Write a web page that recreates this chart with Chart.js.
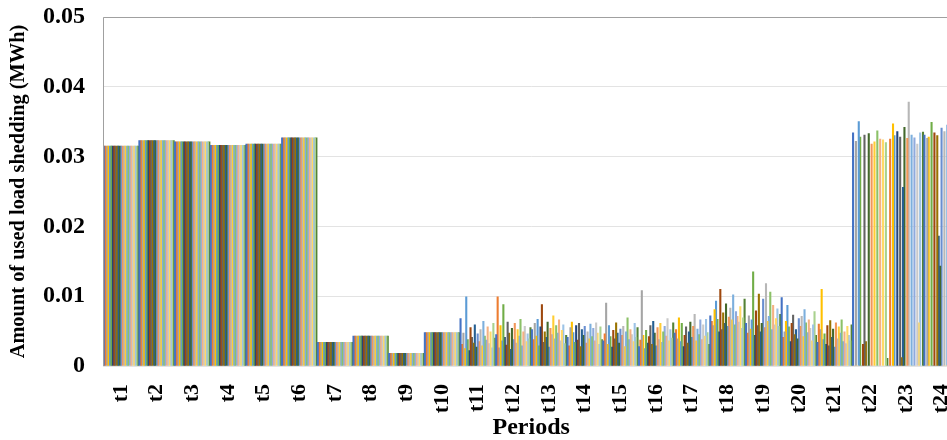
<!DOCTYPE html>
<html><head><meta charset="utf-8">
<script src="https://cdn.jsdelivr.net/npm/chart.js@4/dist/chart.umd.min.js"></script>
<style>html,body{margin:0;padding:0;background:#fff;overflow:hidden}#wrap{width:978px;height:440px;position:relative}</style>
</head><body><div id="wrap"><canvas id="c"></canvas></div>
<script>
const periods = ['t1','t2','t3','t4','t5','t6','t7','t8','t9','t10','t11','t12','t13','t14','t15','t16','t17','t18','t19','t20','t21','t22','t23','t24'];
const yTicks = [0, 0.01, 0.02, 0.03, 0.04, 0.05];
// t1..t10: identical for every scenario
const commonT1toT10 = [0.0315, 0.0323, 0.0321, 0.0316, 0.0318, 0.0327, 0.0034, 0.0043, 0.0018, 0.0048];
// t11..t24 per scenario
const s01 = [0.0068, 0.0045, 0.0052, 0.0041, 0.0036, 0.0028, 0.0047, 0.0072, 0.0061, 0.0098, 0.0034, 0.0334, 0.0000, 0.0331];
const s02 = [0.0031, 0.0099, 0.0038, 0.0029, 0.0046, 0.0037, 0.0052, 0.0064, 0.0047, 0.0041, 0.0060, 0.0000, 0.0325, 0.0000];
const s03 = [0.0047, 0.0026, 0.0061, 0.0055, 0.0090, 0.0108, 0.0039, 0.0058, 0.0072, 0.0049, 0.0052, 0.0322, 0.0000, 0.0326];
const s04 = [0.0025, 0.0058, 0.0043, 0.0063, 0.0031, 0.0044, 0.0069, 0.0081, 0.0053, 0.0064, 0.0110, 0.0000, 0.0347, 0.0328];
const s05 = [0.0099, 0.0036, 0.0067, 0.0048, 0.0058, 0.0025, 0.0035, 0.0093, 0.0066, 0.0087, 0.0038, 0.0350, 0.0330, 0.0000];
const s06 = [0.0038, 0.0088, 0.0029, 0.0034, 0.0042, 0.0051, 0.0061, 0.0067, 0.0135, 0.0056, 0.0046, 0.0328, 0.0000, 0.0349];
const s07 = [0.0022, 0.0041, 0.0056, 0.0058, 0.0027, 0.0033, 0.0028, 0.0049, 0.0044, 0.0035, 0.0031, 0.0000, 0.0336, 0.0000];
const s08 = [0.0055, 0.0030, 0.0088, 0.0037, 0.0051, 0.0042, 0.0044, 0.0110, 0.0079, 0.0061, 0.0058, 0.0031, 0.0000, 0.0334];
const s09 = [0.0041, 0.0063, 0.0034, 0.0061, 0.0039, 0.0058, 0.0056, 0.0052, 0.0058, 0.0073, 0.0029, 0.0331, 0.0328, 0.0000];
const s10 = [0.0033, 0.0047, 0.0049, 0.0028, 0.0062, 0.0031, 0.0033, 0.0076, 0.0103, 0.0045, 0.0065, 0.0035, 0.0012, 0.0330];
const s11 = [0.0059, 0.0024, 0.0041, 0.0052, 0.0047, 0.0064, 0.0049, 0.0061, 0.0049, 0.0052, 0.0041, 0.0000, 0.0256, 0.0186];
const s12 = [0.0027, 0.0054, 0.0063, 0.0044, 0.0033, 0.0047, 0.0063, 0.0089, 0.0061, 0.0039, 0.0053, 0.0333, 0.0342, 0.0143];
const s13 = [0.0046, 0.0038, 0.0027, 0.0057, 0.0053, 0.0029, 0.0041, 0.0057, 0.0096, 0.0068, 0.0027, 0.0000, 0.0000, 0.0341];
const s14 = [0.0035, 0.0061, 0.0054, 0.0033, 0.0044, 0.0055, 0.0057, 0.0070, 0.0055, 0.0057, 0.0062, 0.0318, 0.0326, 0.0000];
const s15 = [0.0052, 0.0033, 0.0045, 0.0049, 0.0057, 0.0038, 0.0074, 0.0083, 0.0118, 0.0071, 0.0039, 0.0000, 0.0378, 0.0336];
const s16 = [0.0029, 0.0052, 0.0072, 0.0039, 0.0028, 0.0061, 0.0036, 0.0066, 0.0064, 0.0042, 0.0056, 0.0321, 0.0000, 0.0000];
const s17 = [0.0064, 0.0043, 0.0039, 0.0060, 0.0049, 0.0034, 0.0053, 0.0102, 0.0071, 0.0081, 0.0047, 0.0000, 0.0331, 0.0345];
const s18 = [0.0043, 0.0067, 0.0058, 0.0042, 0.0069, 0.0049, 0.0045, 0.0059, 0.0106, 0.0062, 0.0066, 0.0337, 0.0000, 0.0339];
const s19 = [0.0037, 0.0029, 0.0047, 0.0054, 0.0038, 0.0057, 0.0066, 0.0078, 0.0052, 0.0048, 0.0035, 0.0000, 0.0327, 0.0000];
const s20 = [0.0056, 0.0049, 0.0066, 0.0036, 0.0052, 0.0043, 0.0038, 0.0071, 0.0087, 0.0066, 0.0049, 0.0325, 0.0000, 0.0324];
const s21 = [0.0032, 0.0057, 0.0036, 0.0062, 0.0045, 0.0068, 0.0059, 0.0063, 0.0059, 0.0054, 0.0032, 0.0000, 0.0318, 0.0000];
const s22 = [0.0049, 0.0035, 0.0051, 0.0047, 0.0035, 0.0036, 0.0043, 0.0085, 0.0068, 0.0036, 0.0057, 0.0324, 0.0062, 0.0329];
const s23 = [0.0026, 0.0046, 0.0059, 0.0031, 0.0061, 0.0052, 0.0067, 0.0054, 0.0082, 0.0059, 0.0044, 0.0000, 0.0334, 0.0000];
const s24 = [0.0061, 0.0039, 0.0032, 0.0056, 0.0041, 0.0040, 0.0048, 0.0069, 0.0057, 0.0078, 0.0036, 0.0320, 0.0000, 0.0332];
const s25 = [0.0040, 0.0055, 0.0044, 0.0038, 0.0055, 0.0062, 0.0031, 0.0096, 0.0074, 0.0044, 0.0059, 0.0011, 0.0335, 0.0327];
const scenarios = [s01,s02,s03,s04,s05,s06,s07,s08,s09,s10,s11,s12,s13,s14,s15,s16,s17,s18,s19,s20,s21,s22,s23,s24,s25];
const palette = ['#4472C4','#ED7D31','#A5A5A5','#FFC000','#5B9BD5','#70AD47',
                 '#264478','#9E480E','#636363','#997300','#255E91','#43682B',
                 '#698ED0','#F1975A','#B7B7B7','#FFCD33','#7CAFDD','#8CC168',
                 '#8FAADC','#F4B183','#C9C9C9','#FFD966','#9DC3E6','#A9D18E','#548235'];

const datasets = scenarios.map((s, i) => ({
  label: 'S' + (i + 1),
  data: commonT1toT10.concat(s),
  backgroundColor: palette[i % palette.length],
  borderWidth: 0,
  categoryPercentage: 1,
  barPercentage: 1
}));

const frame = {
  id: 'frame',
  afterDatasetsDraw(chart) {
    const a = chart.chartArea, ctx = chart.ctx;
    ctx.save();
    ctx.strokeStyle = '#a0a0a0';
    ctx.lineWidth = 1;
    ctx.beginPath();
    ctx.moveTo(Math.round(a.left) + 0.5, Math.round(a.bottom));
    ctx.lineTo(Math.round(a.left) + 0.5, Math.round(a.top) + 0.5);
    ctx.lineTo(Math.round(a.right), Math.round(a.top) + 0.5);
    ctx.stroke();
    ctx.restore();
  }
};

const serif = "'Liberation Serif', 'Times New Roman', serif";
new Chart(document.getElementById('c'), {
  type: 'bar',
  data: { labels: periods, datasets },
  options: {
    responsive: true, maintainAspectRatio: false, animation: false,
    layout: { padding: { left: 6, top: 0, right: 2, bottom: 0 } },
    plugins: { legend: { display: false }, tooltip: { enabled: false } },
    scales: {
      x: {
        grid: { display: false },
        border: { display: false },
        afterFit(axis) { axis.height = 74; },
        ticks: { color: '#000', font: { family: serif, size: 22, weight: 'bold' }, minRotation: 90, maxRotation: 90, autoSkip: false, padding: 10 },
        title: { display: true, text: 'Periods', color: '#000', font: { family: serif, size: 24, weight: 'bold', lineHeight: 1 }, padding: { top: 0, bottom: 0 } }
      },
      y: {
        min: 0, max: 0.05,
        afterBuildTicks(axis) { axis.ticks = yTicks.map(v => ({ value: v })); },
        afterFit(axis) { axis.paddingTop = 17; axis.width = 97; },
        grid: { color: '#e3e3e3', drawTicks: false },
        border: { display: false },
        ticks: { color: '#000', font: { family: serif, size: 24, weight: 'bold' }, padding: 18,
                 callback: v => v === 0 ? '0' : Number(v).toFixed(2) },
        title: { display: true, text: 'Amount of used load shedding (MWh)', color: '#000', font: { family: serif, size: 20.4, weight: 'bold' }, padding: { top: 0, bottom: 0 } }
      }
    }
  },
  plugins: [frame]
});
</script></body></html>
